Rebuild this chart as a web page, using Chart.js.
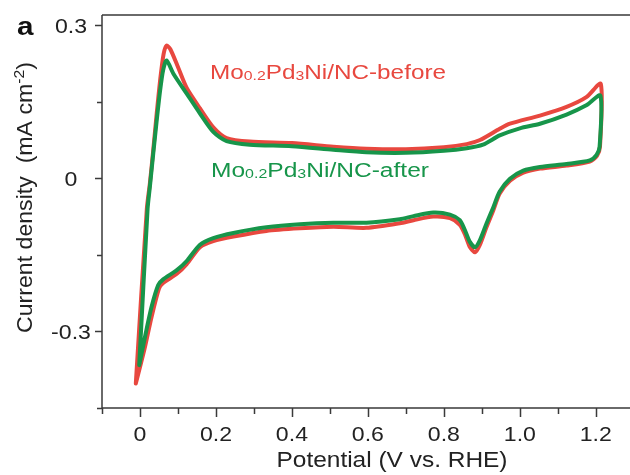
<!DOCTYPE html>
<html>
<head>
<meta charset="utf-8">
<script src="https://cdn.jsdelivr.net/npm/chart.js@4.4.1/dist/chart.umd.min.js"></script>
<style>
  html, body { margin: 0; padding: 0; background: #ffffff; }
  #wrap { width: 630px; height: 475px; }
</style>
</head>
<body>
<div id="wrap"><canvas id="cv" width="630" height="475"></canvas></div>
<script>
// Cyclic voltammograms: potential (V vs. RHE) and current density (mA cm^-2),
// anodic sweep from the lower vertex to the upper vertex, then the cathodic sweep back.
const potentialBefore = [
  -0.011, 0.018, 0.026, 0.035, 0.044, 0.053, 0.062, 0.070, 0.080, 0.100, 0.123, 0.158, 0.193, 0.228, 0.289,
  0.400, 0.509, 0.596, 0.700, 0.800, 0.860, 0.895, 0.947, 0.974, 1.053, 1.123, 1.175, 1.213,
  1.211, 1.203, 1.184, 1.123, 1.053, 1.009, 0.974, 0.947, 0.930, 0.912, 0.895, 0.882, 0.868, 0.855, 0.842,
  0.816, 0.772, 0.720, 0.684, 0.596, 0.509, 0.421, 0.333, 0.246, 0.193, 0.158, 0.123, 0.097, 0.061, 0.050,
  0.030, 0.012, -0.011
];
const currentBefore = [
  -0.402, -0.060, -0.010, 0.056, 0.127, 0.192, 0.243, 0.260, 0.253, 0.218, 0.177, 0.137, 0.100, 0.079, 0.072,
  0.069, 0.062, 0.058, 0.057, 0.061, 0.067, 0.075, 0.097, 0.107, 0.123, 0.140, 0.159, 0.185,
  0.062, 0.044, 0.033, 0.025, 0.019, 0.011, -0.005, -0.030, -0.063, -0.096, -0.130, -0.145, -0.134, -0.109, -0.091,
  -0.078, -0.075, -0.082, -0.088, -0.097, -0.095, -0.098, -0.103, -0.114, -0.123, -0.135, -0.168, -0.187, -0.205, -0.216,
  -0.273, -0.334, -0.402
];
const potentialAfter = [
  -0.002, 0.020, 0.026, 0.035, 0.044, 0.053, 0.061, 0.070, 0.088, 0.123, 0.158, 0.193, 0.228, 0.289,
  0.400, 0.509, 0.596, 0.700, 0.800, 0.860, 0.903, 0.947, 1.000, 1.053, 1.123, 1.175, 1.212,
  1.210, 1.202, 1.184, 1.123, 1.053, 1.009, 0.974, 0.947, 0.930, 0.912, 0.895, 0.882, 0.868, 0.855, 0.842,
  0.816, 0.772, 0.720, 0.684, 0.596, 0.509, 0.421, 0.333, 0.246, 0.193, 0.158, 0.123, 0.097, 0.061, 0.048,
  0.030, 0.015, -0.002
];
const currentAfter = [
  -0.366, -0.060, -0.017, 0.049, 0.113, 0.172, 0.212, 0.231, 0.205, 0.166, 0.127, 0.091, 0.073, 0.066,
  0.063, 0.056, 0.051, 0.050, 0.054, 0.059, 0.066, 0.084, 0.098, 0.107, 0.125, 0.143, 0.162,
  0.062, 0.046, 0.035, 0.028, 0.022, 0.015, -0.001, -0.026, -0.057, -0.089, -0.121, -0.135, -0.124, -0.101, -0.082,
  -0.071, -0.067, -0.074, -0.080, -0.087, -0.087, -0.090, -0.096, -0.107, -0.117, -0.130, -0.162, -0.180, -0.198, -0.209,
  -0.253, -0.304, -0.366
];

const seriesNames = ['Mo₀.₂Pd₃Ni/NC-before', 'Mo₀.₂Pd₃Ni/NC-after'];
const xTickValues = [-0.1, 0, 0.1, 0.2, 0.3, 0.4, 0.5, 0.6, 0.7, 0.8, 0.9, 1.0, 1.1, 1.2];
const xTickLabels = ['', '0', '', '0.2', '', '0.4', '', '0.6', '', '0.8', '', '1.0', '', '1.2'];
const yTickValues = [-0.45, -0.3, -0.15, 0, 0.15, 0.3];
const yTickLabels = ['', '-0.3', '', '0', '', '0.3'];
const panelLetter = 'a';
const xTitle = 'Potential (V vs. RHE)';
const yTitle = 'Current density  (mA cm⁻²)';

const RED = '#e8483f';
const GREEN = '#17954a';
const INK = '#222222';
const AXIS = '#3a3a3a';
const FONT = "'Liberation Sans', Arial, Helvetica, sans-serif";
const STRETCH = 1.1;   // horizontal widening applied to the lettering

const toPoints = (xs, ys) => xs.map((x, i) => ({ x: x, y: ys[i] }));

// Text with sub/superscript characters rendered as small glyphs.
const SUB = { '₀': '0', '₁': '1', '₂': '2', '₃': '3', '₄': '4', '₅': '5', '₆': '6', '₇': '7', '₈': '8', '₉': '9' };
const SUP = { '⁰': '0', '¹': '1', '²': '2', '³': '3', '⁻': '-' };
function richParts(text) {
  const chars = Array.from(text);
  return chars.map((c, i) => {
    if (SUB[c]) return { t: SUB[c], k: 'sub' };
    if (SUP[c]) return { t: SUP[c], k: 'sup' };
    if (c === '.' && SUB[chars[i - 1]] && SUB[chars[i + 1]]) return { t: '.', k: 'sub' };
    return { t: c, k: 'n' };
  });
}
// align: 'left' | 'center' | 'right'; width: drawn width in px (optional)
function drawRich(ctx, text, x, y, size, color, align, opts) {
  const o = opts || {};
  const parts = richParts(text);
  const w = o.weight || 'normal';
  const fontFor = k => (k === 'n' ? `${w} ${size}px ${FONT}` : `${w} ${Math.round(size * 0.66)}px ${FONT}`);
  let total = 0;
  parts.forEach(p => { ctx.font = fontFor(p.k); p.w = ctx.measureText(p.t).width; total += p.w; });
  const sx = o.width ? o.width / total : STRETCH;
  const drawn = total * sx;
  const left = align === 'center' ? x - drawn / 2 : (align === 'right' ? x - drawn : x);
  ctx.save();
  ctx.translate(left, y);
  ctx.scale(sx, 1);
  ctx.fillStyle = color;
  ctx.textAlign = 'left';
  ctx.textBaseline = 'alphabetic';
  let cx = 0;
  parts.forEach(p => {
    ctx.font = fontFor(p.k);
    const dy = p.k === 'sub' ? 1 : (p.k === 'sup' ? -size * 0.38 : 0);
    ctx.fillText(p.t, cx, dy);
    cx += p.w;
  });
  ctx.restore();
}

const framePlugin = {
  id: 'frame',
  afterDraw(chart) {
    const ctx = chart.ctx;
    const a = chart.chartArea;
    const xs = chart.scales.x, ys = chart.scales.y;
    ctx.save();
    ctx.strokeStyle = AXIS;
    ctx.lineWidth = 1.5;
    ctx.beginPath();
    ctx.moveTo(a.left, a.top); ctx.lineTo(chart.width, a.top);
    ctx.moveTo(a.left, a.top); ctx.lineTo(a.left, a.bottom);
    ctx.moveTo(a.left, a.bottom); ctx.lineTo(chart.width, a.bottom);
    xTickValues.forEach((v, i) => {
      const px = Math.round(xs.getPixelForValue(v)) + 0.5;
      const len = xTickLabels[i] ? 9 : 6;
      ctx.moveTo(px, a.bottom); ctx.lineTo(px, a.bottom + len);
    });
    yTickValues.forEach((v, i) => {
      const py = Math.round(ys.getPixelForValue(v)) + 0.5;
      const len = yTickLabels[i] ? 7 : 5;
      ctx.moveTo(a.left, py); ctx.lineTo(a.left - len, py);
    });
    ctx.stroke();

    // tick labels
    xTickValues.forEach((v, i) => {
      if (xTickLabels[i]) drawRich(ctx, xTickLabels[i], xs.getPixelForValue(v), a.bottom + 33, 21, INK, 'center');
    });
    yTickValues.forEach((v, i) => {
      if (yTickLabels[i]) drawRich(ctx, yTickLabels[i], 71, ys.getPixelForValue(v) + 8, 21, INK, 'center');
    });

    // series labels inside the plot
    drawRich(ctx, seriesNames[0], 210, 79, 20, RED, 'left', { width: 236 });
    drawRich(ctx, seriesNames[1], 211, 177, 20, GREEN, 'left', { width: 218 });

    // axis titles
    drawRich(ctx, xTitle, 392, 467, 22, INK, 'center', { width: 231 });
    ctx.save();
    ctx.translate(32, 197.5);
    ctx.rotate(-Math.PI / 2);
    drawRich(ctx, yTitle, 0, 0, 22, INK, 'center', { width: 271 });
    ctx.restore();

    // panel letter
    drawRich(ctx, panelLetter, 17, 35, 25, '#111111', 'left', { weight: 'bold', width: 16.5 });
    ctx.restore();
  }
};

new Chart(document.getElementById('cv'), {
  type: 'scatter',
  data: {
    datasets: [
      {
        label: seriesNames[1],
        data: toPoints(potentialAfter, currentAfter),
        showLine: true, borderColor: GREEN, borderWidth: 4, pointRadius: 0,
        tension: 0.25, fill: false, borderCapStyle: 'round', borderJoinStyle: 'round'
      },
      {
        label: seriesNames[0],
        data: toPoints(potentialBefore, currentBefore),
        showLine: true, borderColor: RED, borderWidth: 4, pointRadius: 0,
        tension: 0.25, fill: false, borderCapStyle: 'round', borderJoinStyle: 'round'
      }
    ]
  },
  options: {
    responsive: false,
    animation: false,
    devicePixelRatio: 1,
    layout: { padding: { top: 15, right: 0, left: 0, bottom: 0 } },
    plugins: { legend: { display: false }, tooltip: { enabled: false } },
    scales: {
      x: {
        type: 'linear', min: -0.1, max: 1.29,
        afterBuildTicks: s => { s.ticks = xTickValues.map(v => ({ value: v })); },
        afterFit: s => { s.height = 67; },
        ticks: { display: false },
        grid: { display: false, drawTicks: false },
        border: { display: false }
      },
      y: {
        type: 'linear', min: -0.45, max: 0.32,
        afterBuildTicks: s => { s.ticks = yTickValues.map(v => ({ value: v })); },
        afterFit: s => { s.width = 102; },
        ticks: { display: false },
        grid: { display: false, drawTicks: false },
        border: { display: false }
      }
    }
  },
  plugins: [framePlugin]
});
</script>
</body>
</html>
